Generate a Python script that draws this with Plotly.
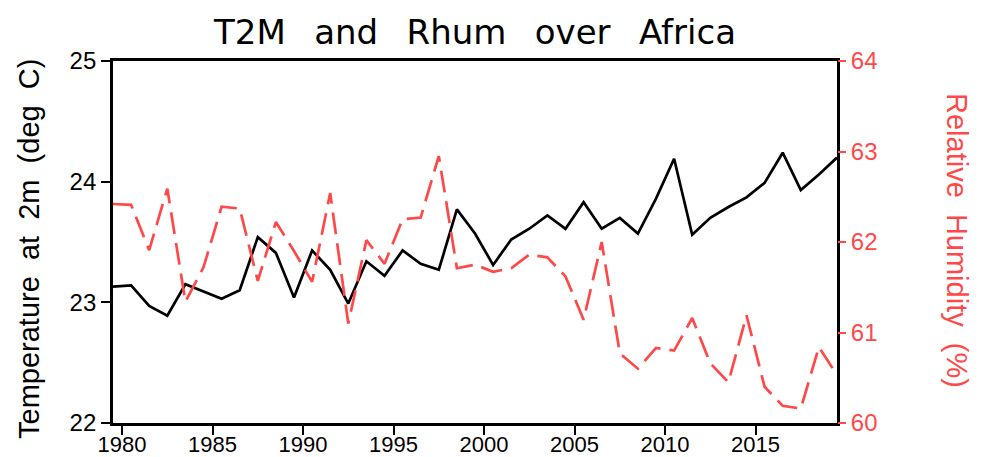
import plotly.graph_objects as go

# Annual means, 1979-2019 (plotted at mid-year)
years = list(range(1979, 2020))
t2m = [23.13, 23.14, 22.97, 22.89, 23.15, 23.09, 23.03, 23.10, 23.54, 23.41,
       23.04, 23.43, 23.27, 22.99, 23.34, 23.22, 23.43, 23.32, 23.27, 23.77,
       23.57, 23.31, 23.52, 23.61, 23.72, 23.61, 23.83, 23.61, 23.70, 23.57,
       23.86, 24.19, 23.56, 23.70, 23.79, 23.87, 23.99, 24.24, 23.93, 24.06,
       24.20]
rhum = [62.42, 62.41, 61.91, 62.59, 61.34, 61.72, 62.39, 62.37, 61.57, 62.22,
        61.90, 61.56, 62.54, 61.10, 62.02, 61.76, 62.25, 62.27, 62.95, 61.71,
        61.75, 61.67, 61.71, 61.86, 61.83, 61.62, 61.14, 62.00, 60.77, 60.60,
        60.83, 60.80, 61.16, 60.66, 60.45, 61.19, 60.40, 60.19, 60.16, 60.84,
        60.53]
x_ticks = [1980, 1985, 1990, 1995, 2000, 2005, 2010, 2015]
t_ticks = [22, 23, 24, 25]
rh_ticks = [60, 61, 62, 63, 64]

mid = [y + 0.5 for y in years]
RED = "#ff4848"
TFONT = "DejaVu Sans"
FONT = "Liberation Sans"
SP = "\u00a0\u00a0"
TSP = "\u00a0\u00a0\u2009"

W, H = 983, 457
L, R, T, B = 113, 146, 61, 34
PW, PH = W - L - R, H - T - B

fig = go.Figure()
fig.add_trace(go.Scatter(x=mid, y=t2m, mode="lines",
                         line=dict(color="black", width=2.7), yaxis="y",
                         showlegend=False))
fig.add_trace(go.Scatter(x=mid, y=rhum, mode="lines",
                         line=dict(color=RED, width=2.7, dash="22px,9px"),
                         yaxis="y2", showlegend=False))

fig.update_layout(
    width=W, height=H,
    margin=dict(l=L, r=R, t=T, b=B, autoexpand=False),
    paper_bgcolor="white", plot_bgcolor="white",
    font=dict(family=FONT, color="black"),
    title=dict(text=TSP.join(["T2M", "and", "Rhum", "over", "Africa"]),
               x=(L + PW / 2) / W, xanchor="center",
               y=1 - 32 / H, yanchor="middle",
               font=dict(family=TFONT, size=34, color="black")),
    xaxis=dict(range=[1979.5, 2019.5], tickvals=x_ticks,
               ticktext=[str(v) for v in x_ticks], automargin=False,
               showgrid=False, zeroline=False,
               showline=True, linecolor="black", linewidth=2.8, mirror=True,
               ticks="outside", ticklen=9, tickwidth=2.2, tickcolor="black",
               ticklabelstandoff=-9,
               tickfont=dict(family=FONT, size=22, color="black")),
    yaxis=dict(range=[22, 25], tickvals=t_ticks, automargin=False,
               showgrid=False, zeroline=False,
               showline=True, linecolor="black", linewidth=2.8, mirror=True,
               ticks="outside", ticklen=9, tickwidth=2.2, tickcolor="black",
               tickfont=dict(family=FONT, size=24, color="black")),
    yaxis2=dict(range=[60, 64], tickvals=rh_ticks, overlaying="y", side="right",
                automargin=False,
                showgrid=False, zeroline=False, showline=False,
                ticks="outside", ticklen=8, tickwidth=2, tickcolor=RED,
                tickfont=dict(family=FONT, size=24, color=RED)),
    annotations=[
        dict(text=SP.join(["Temperature", "at", "2m", "(deg", "C)"]),
             xref="paper", yref="paper", x=(29 - L) / PW, y=(H - B - 249) / PH,
             xanchor="center", yanchor="middle", textangle=-90, showarrow=False,
             font=dict(family=FONT, size=29, color="black")),
        dict(text=SP.join(["Relative", "Humidity", "(%)"]),
             xref="paper", yref="paper", x=(957 - L) / PW, y=(H - B - 240) / PH,
             xanchor="center", yanchor="middle", textangle=90, showarrow=False,
             font=dict(family=FONT, size=29, color=RED)),
    ],
)

fig.write_html("out.html", config={"displayModeBar": False},
               post_script="document.body.style.margin='0px';")
